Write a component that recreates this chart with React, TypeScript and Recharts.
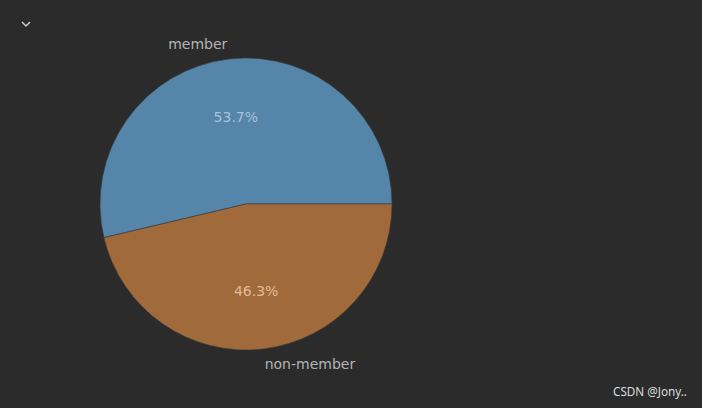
import { PieChart, Pie, Cell } from 'recharts'

const categories = ['member', 'non-member']
const shares = [53.7, 46.3]
const sliceColors = ['#5585a9', '#a06a3b']
const pctColors = ['#a9c3d7', '#e2bb98']

const data = categories.map((name, i) => ({ name, value: shares[i] }))

const RADIAN = Math.PI / 180
const font = '"DejaVu Sans", sans-serif'

function renderLabel(props: any) {
  const { cx, cy, midAngle, outerRadius, percent, name, index } = props
  const cos = Math.cos(-midAngle * RADIAN)
  const sin = Math.sin(-midAngle * RADIAN)
  const lx = cx + outerRadius * 1.1 * cos
  const ly = cy + outerRadius * 1.1 * sin
  const px = cx + outerRadius * 0.6 * cos
  const py = cy + outerRadius * 0.6 * sin
  return (
    <g>
      <text
        x={lx}
        y={ly}
        fill="#b4b4b4"
        fontSize={14}
        fontFamily={font}
        textAnchor={cos < 0 ? 'end' : 'start'}
        dominantBaseline="central"
      >
        {name}
      </text>
      <text
        x={px}
        y={py}
        fill={pctColors[index]}
        fontSize={14}
        fontFamily={font}
        textAnchor="middle"
        dominantBaseline="central"
      >
        {(percent * 100).toFixed(1)}%
      </text>
    </g>
  )
}

export default function App() {
  return (
    <div
      style={{
        position: 'absolute',
        top: 0,
        left: 0,
        width: 702,
        height: 408,
        background: '#2b2b2b',
        overflow: 'hidden',
      }}
    >
      <svg width={20} height={12} style={{ position: 'absolute', left: 16, top: 18 }}>
        <polyline points="6,4 10,8 14,4" fill="none" stroke="#cfcfcf" strokeWidth={1.5} />
      </svg>
      <PieChart width={702} height={408} margin={{ top: 0, right: 0, bottom: 0, left: 0 }}>
        <Pie
          data={data}
          dataKey="value"
          nameKey="name"
          cx={246}
          cy={204}
          outerRadius={146}
          startAngle={0}
          endAngle={360}
          label={renderLabel}
          labelLine={false}
          stroke="#3a3a3a"
          strokeWidth={0.6}
          isAnimationActive={false}
        >
          {data.map((d, i) => (
            <Cell key={d.name} fill={sliceColors[i]} />
          ))}
        </Pie>
      </PieChart>
      <div
        style={{
          position: 'absolute',
          left: 613,
          top: 383,
          fontSize: 11.7,
          fontFamily: '"Noto Sans", sans-serif',
          color: '#dcdcdc',
          whiteSpace: 'nowrap',
        }}
      >
        CSDN @Jony..
      </div>
    </div>
  )
}
